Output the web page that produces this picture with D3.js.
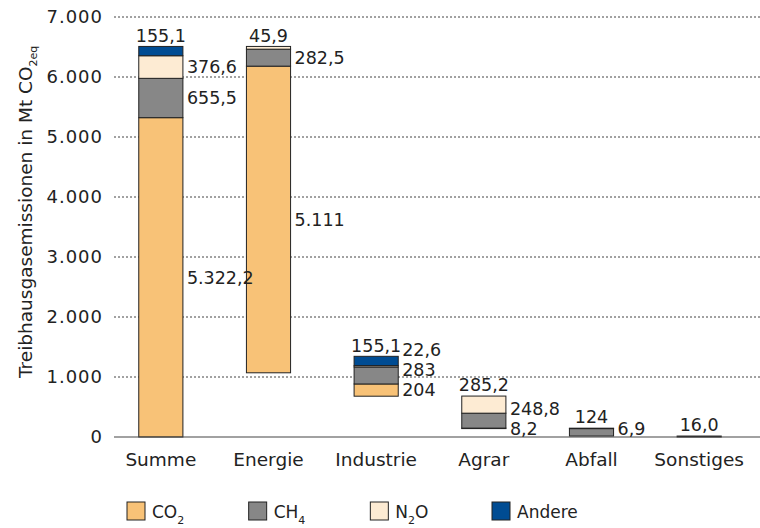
<!DOCTYPE html>
<html>
<head>
<meta charset="utf-8">
<script src="https://cdn.jsdelivr.net/npm/d3@7"></script>
<style>
  body { margin: 0; background: #fff; }
  svg text { font-family: "DejaVu Sans", sans-serif; fill: #222; }
</style>
</head>
<body>
<svg id="chart" width="760" height="528"></svg>
<script>
// data (Mt CO2eq)
var categories = ["Summe", "Energie", "Industrie", "Agrar", "Abfall", "Sonstiges"];
var gases = ["CO2", "CH4", "N2O", "Andere"];
var co2 = [5322.2, 5111, 204, 8.2, 0, 16.0];
var ch4 = [655.5, 282.5, 283, 248.8, 124, 0];
var n2o = [376.6, 45.9, 22.6, 285.2, 6.9, 0];
var andere = [155.1, 0, 155.1, 0, 0, 0];
// where each floating bar starts
var bases = [0, 1070, 680, 140, 16, 0];
// value labels as printed
var co2Labels = ["5.322,2", "5.111", "204", "8,2", "", "16,0"];
var ch4Labels = ["655,5", "282,5", "283", "248,8", "124", ""];
var n2oLabels = ["376,6", "45,9", "22,6", "285,2", "6,9", ""];
var andereLabels = ["155,1", "", "155,1", "", "", ""];
// which gas gets its label on top of the bar
var topLabelGas = ["Andere", "N2O", "Andere", "N2O", "CH4", "CO2"];
var yTicks = [0, 1000, 2000, 3000, 4000, 5000, 6000, 7000];

var colors = {CO2: "#F8C277", CH4: "#878787", N2O: "#FDEBD3", Andere: "#004C93"};
var values = {CO2: co2, CH4: ch4, N2O: n2o, Andere: andere};
var labels = {CO2: co2Labels, CH4: ch4Labels, N2O: n2oLabels, Andere: andereLabels};

var svg = d3.select("svg#chart");

var x = d3.scaleBand()
    .domain(categories)
    .range([107, 753])
    .paddingInner(0.59)
    .paddingOuter(0.295);

var y = d3.scaleLinear()
    .domain([0, 7000])
    .range([437, 17]);

var fmt = function(v) { return d3.format(",")(v).replace(/,/g, "."); };

//gridlines
svg.append("g")
    .selectAll("line")
    .data(yTicks.filter(function(d) { return d > 0; }))
    .enter().append("line")
    .attr("x1", 114).attr("x2", 760)
    .attr("y1", function(d) { return y(d); })
    .attr("y2", function(d) { return y(d); })
    .attr("stroke", "#444")
    .attr("stroke-dasharray", "2,2");

// tick labels
svg.append("g")
    .selectAll("text")
    .data(yTicks)
    .enter().append("text")
    .attr("x", 103)
    .attr("y", function(d) { return y(d); })
    .attr("dy", "0.36em")
    .attr("text-anchor", "end")
    .style("font-size", "18px")
    .style("letter-spacing", "1px")
    .text(fmt);

// build segments
var segs = [];
categories.forEach(function(c, i) {
  var y0 = bases[i];
  gases.forEach(function(g) {
    var v = values[g][i];
    if (v > 0) {
      segs.push({cat: c, idx: i, gas: g, y0: y0, y1: y0 + v, label: labels[g][i]});
      y0 += v;
    }
  });
});

// bars
svg.append("g")
    .selectAll("rect")
    .data(segs)
    .enter().append("rect")
    .attr("x", function(d) { return x(d.cat); })
    .attr("width", x.bandwidth())
    .attr("y", function(d) { return y(d.y1); })
    .attr("height", function(d) { return y(d.y0) - y(d.y1); })
    .attr("fill", function(d) { return colors[d.gas]; })
    .attr("stroke", "#222")
    .attr("stroke-width", 1);

// zero line
svg.append("line")
    .attr("x1", 114).attr("x2", 760)
    .attr("y1", y(0)).attr("y2", y(0))
    .attr("stroke", "#444")
    .attr("stroke-width", 1.2);

// value labels
var lab = svg.append("g").style("font-size", "17.5px");
categories.forEach(function(c, i) {
  var mine = segs.filter(function(d) { return d.idx === i; });
  var top = d3.max(mine, function(d) { return d.y1; });
  var prevY = Infinity;
  mine.forEach(function(d) {
    if (d.gas === topLabelGas[i]) {
      lab.append("text")
          .attr("x", x(c) + x.bandwidth() / 2)
          .attr("y", y(top) - 11)
          .attr("dy", "0.36em")
          .attr("text-anchor", "middle")
          .text(d.label);
    } else {
      var ly = Math.min((y(d.y0) + y(d.y1)) / 2, prevY - 20);
      prevY = ly;
      lab.append("text")
          .attr("x", x(c) + x.bandwidth() + 4)
          .attr("y", ly)
          .attr("dy", "0.36em")
          .text(d.label);
    }
  });
});

// category labels
svg.append("g")
    .selectAll("text")
    .data(categories)
    .enter().append("text")
    .attr("x", function(d) { return x(d) + x.bandwidth() / 2; })
    .attr("y", 466)
    .attr("text-anchor", "middle")
    .style("font-size", "18.5px")
    .text(function(d) { return d; });

// y axis title
var yt = svg.append("text")
    .attr("transform", "translate(32,378) rotate(-90)")
    .style("font-size", "18.5px");
yt.append("tspan").text("Treibhausgasemissionen in Mt CO");
yt.append("tspan").attr("dy", 5).style("font-size", "11px").text("2eq");

// legend
var lx = d3.scalePoint().domain(gases).range([127, 492]);
var leg = svg.append("g").selectAll("g")
    .data(gases)
    .enter().append("g")
    .attr("transform", function(d) { return "translate(" + lx(d) + ",502)"; });
leg.append("rect")
    .attr("width", 18).attr("height", 18)
    .attr("fill", function(d) { return colors[d]; })
    .attr("stroke", "#222");
var lt = leg.append("text")
    .attr("x", 25).attr("y", 16)
    .style("font-size", "17px");
lt.each(function(d) {
  var t = d3.select(this);
  if (d === "CO2") {
    t.append("tspan").text("CO");
    t.append("tspan").attr("dy", 6).style("font-size", "11px").text("2");
  } else if (d === "CH4") {
    t.append("tspan").text("CH");
    t.append("tspan").attr("dy", 6).style("font-size", "11px").text("4");
  } else if (d === "N2O") {
    t.append("tspan").text("N");
    t.append("tspan").attr("dy", 6).style("font-size", "11px").text("2");
    t.append("tspan").attr("dy", -6).text("O");
  } else {
    t.text(d);
  }
});
</script>
</body>
</html>
